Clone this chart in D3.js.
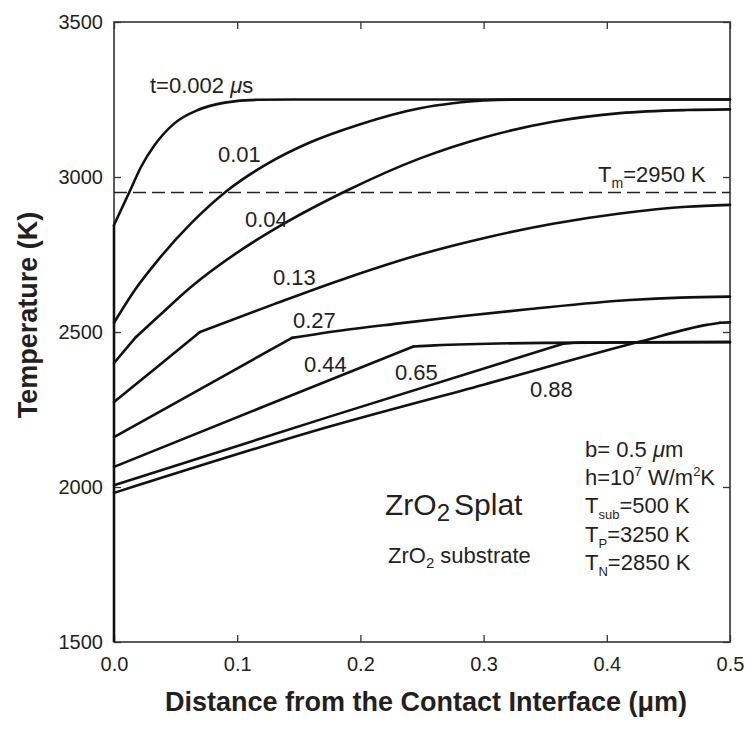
<!DOCTYPE html>
<html>
<head>
<meta charset="utf-8">
<script src="https://cdn.jsdelivr.net/npm/d3@7"></script>
<style>
  body { margin: 0; background: #fff; }
  svg text { font-family: "Liberation Sans", Arial, Helvetica, sans-serif; fill: #231f20; }
</style>
</head>
<body>
<svg width="747" height="740"></svg>
<script>
// times (in microseconds) that label each profile
var TIMES = ["0.002", "0.01", "0.04", "0.13", "0.27", "0.44", "0.65", "0.88"];

// temperature profiles: [distance (um), temperature (K)]
var T_0002 = [[0, 2845], [0.0127, 2953], [0.022, 3033], [0.033, 3103], [0.049, 3173], [0.068, 3216], [0.09, 3240], [0.117, 3249], [0.16, 3250], [0.5, 3250]];
var T_001 = [[0, 2530], [0.0168, 2635], [0.0357, 2732], [0.0627, 2851], [0.0925, 2958], [0.125, 3044], [0.1575, 3109], [0.198, 3168], [0.2484, 3222], [0.275, 3238], [0.30, 3247], [0.33, 3250], [0.5, 3250]];
var T_004 = [[0, 2400], [0.0179, 2484], [0.0357, 2549], [0.0627, 2646], [0.1033, 2765], [0.1386, 2851], [0.19, 2958], [0.2484, 3060], [0.3025, 3130], [0.3563, 3178], [0.4107, 3206], [0.4649, 3216], [0.5, 3218]];
var T_013 = [[0, 2274], [0.035, 2387], [0.0698, 2500], [0.13, 2590], [0.19, 2676], [0.2484, 2750], [0.3025, 2805], [0.3563, 2849], [0.4107, 2882], [0.4649, 2904], [0.5, 2910]];
var T_027 = [[0, 2161], [0.07, 2316], [0.1445, 2481], [0.19, 2508], [0.23, 2527], [0.28, 2550], [0.3377, 2574], [0.4188, 2603], [0.46, 2611], [0.5, 2614]];
var T_044 = [[0, 2065], [0.12, 2257], [0.243, 2453], [0.26, 2457], [0.35, 2465], [0.5, 2468]];
var T_065 = [[0, 2006], [0.175, 2227], [0.3645, 2462], [0.38, 2466], [0.5, 2467]];
var T_088 = [[0, 1981], [0.175, 2195], [0.30, 2330], [0.427, 2469], [0.481, 2523], [0.492, 2530], [0.5, 2531]];

// distance where each profile bends sharply (null = smooth)
var KINKS = [null, null, 0.0179, 0.0698, 0.1445, 0.243, 0.3645, 0.492];

// vertical part of the profile at the contact interface
var INTERFACE = [[0, 1500], [0, 2845]];

// melting point
var T_MELT = 2950;

var X_TICKS = [0, 0.1, 0.2, 0.3, 0.4, 0.5];
var Y_TICKS = [1500, 2000, 2500, 3000, 3500];

var profiles = [T_0002, T_001, T_004, T_013, T_027, T_044, T_065, T_088];

var svg = d3.select("svg");
var plotL = 114, plotR = 730, plotT = 22, plotB = 642;

var x = d3.scaleLinear().domain([0, 0.5]).range([plotL, plotR]);
var y = d3.scaleLinear().domain([1500, 3500]).range([plotB, plotT]);

// axes, ticks inside the frame
svg.append("g")
  .attr("transform", "translate(0," + plotB + ")")
  .call(d3.axisBottom(x).tickValues(X_TICKS).tickFormat(d3.format(".1f")).tickSizeInner(-7).tickSizeOuter(0).tickPadding(15));
svg.append("g")
  .attr("transform", "translate(" + plotL + ",0)")
  .call(d3.axisLeft(y).tickValues(Y_TICKS).tickFormat(d3.format("d")).tickSizeInner(-7).tickSizeOuter(0).tickPadding(11));
svg.append("g")
  .attr("transform", "translate(0," + plotT + ")")
  .call(d3.axisTop(x).tickValues(X_TICKS).tickFormat("").tickSizeInner(-7).tickSizeOuter(0));
svg.append("g")
  .attr("transform", "translate(" + plotR + ",0)")
  .call(d3.axisRight(y).tickValues(Y_TICKS).tickFormat("").tickSizeInner(-7).tickSizeOuter(0));

svg.selectAll(".domain").remove();
svg.selectAll(".tick line").attr("stroke", "#333").attr("stroke-width", 1.3);
svg.selectAll(".tick text").attr("font-size", 20).attr("font-family", null).attr("fill", "#231f20");

svg.append("rect")
  .attr("x", plotL).attr("y", plotT)
  .attr("width", plotR - plotL).attr("height", plotB - plotT)
  .attr("fill", "none").attr("stroke", "#333").attr("stroke-width", 1.6);

// melting temperature
svg.append("line")
  .attr("x1", x(0)).attr("x2", x(0.5))
  .attr("y1", y(T_MELT)).attr("y2", y(T_MELT))
  .attr("stroke", "#222").attr("stroke-width", 1.4)
  .attr("stroke-dasharray", "13,6");

var line = d3.line()
  .x(function(d) { return x(d[0]); })
  .y(function(d) { return y(d[1]); })
  .curve(d3.curveMonotoneX);

svg.append("path")
  .attr("d", d3.line().x(function(d) { return x(d[0]); }).y(function(d) { return y(d[1]); })(INTERFACE))
  .attr("fill", "none").attr("stroke", "#111").attr("stroke-width", 2.6);

// split each profile at its kink so the bend stays sharp
var pieces = [];
profiles.forEach(function(p, i) {
  var k = KINKS[i];
  if (k == null) { pieces.push(p); return; }
  pieces.push(p.filter(function(d) { return d[0] <= k; }));
  pieces.push(p.filter(function(d) { return d[0] >= k; }));
});

svg.selectAll(".profile")
  .data(pieces)
  .enter().append("path")
  .attr("class", "profile")
  .attr("d", line)
  .attr("fill", "none")
  .attr("stroke", "#111")
  .attr("stroke-width", 2.6)
  .attr("stroke-linejoin", "round")
  .attr("stroke-linecap", "round");

// curve labels
var labelPos = [[150, 93], [218, 162], [245, 227], [273, 285], [293, 328], [304, 372], [395, 380], [530, 397]];
TIMES.forEach(function(t, i) {
  var txt = svg.append("text")
    .attr("x", labelPos[i][0]).attr("y", labelPos[i][1])
    .attr("font-size", 22);
  if (i == 0) {
    txt.append("tspan").text("t=" + t + " ");
    txt.append("tspan").attr("font-style", "italic").text("\u03bc");
    txt.append("tspan").text("s");
  } else {
    txt.text(t);
  }
});

// T_m label
var tm = svg.append("text").attr("x", 598).attr("y", 182).attr("font-size", 22);
tm.append("tspan").text("T");
tm.append("tspan").attr("font-size", 14).attr("dy", 6).text("m");
tm.append("tspan").attr("dy", -6).text("=" + T_MELT + " K");

// parameter block
var px = 585;
var b = svg.append("text").attr("x", px).attr("y", 457).attr("font-size", 22);
b.append("tspan").text("b= 0.5 ");
b.append("tspan").attr("font-style", "italic").text("\u03bc");
b.append("tspan").text("m");

var h = svg.append("text").attr("x", px).attr("y", 485).attr("font-size", 22);
h.append("tspan").text("h=10");
h.append("tspan").attr("font-size", 13).attr("dy", -9).text("7");
h.append("tspan").attr("dy", 9).text(" W/m");
h.append("tspan").attr("font-size", 13).attr("dy", -9).text("2");
h.append("tspan").attr("dy", 9).text("K");

[["sub", "=500 K", 513], ["P", "=3250 K", 542], ["N", "=2850 K", 570]].forEach(function(r) {
  var t = svg.append("text").attr("x", px).attr("y", r[2]).attr("font-size", 22);
  t.append("tspan").text("T");
  t.append("tspan").attr("font-size", 13).attr("dy", 6).text(r[0]);
  t.append("tspan").attr("dy", -6).text(r[1]);
});

// material labels
var splat = svg.append("text").attr("x", 385).attr("y", 515).attr("font-size", 30);
splat.append("tspan").text("ZrO");
splat.append("tspan").attr("font-size", 24).attr("dy", 6).text("2");
splat.append("tspan").attr("dy", -6).text("Splat").attr("dx", 4);

var sub = svg.append("text").attr("x", 388).attr("y", 563).attr("font-size", 22);
sub.append("tspan").text("ZrO");
sub.append("tspan").attr("font-size", 15).attr("dy", 5).text("2");
sub.append("tspan").attr("dy", -5).text(" substrate");

// axis titles
svg.append("text")
  .attr("x", (plotL + plotR) / 2 + 4).attr("y", 711)
  .attr("text-anchor", "middle")
  .attr("font-size", 27).attr("font-weight", "bold")
  .text("Distance from the Contact Interface (\u03bcm)");

svg.append("text")
  .attr("transform", "translate(37,315) rotate(-90)")
  .attr("text-anchor", "middle")
  .attr("font-size", 27).attr("font-weight", "bold")
  .text("Temperature (K)");
</script>
</body>
</html>
